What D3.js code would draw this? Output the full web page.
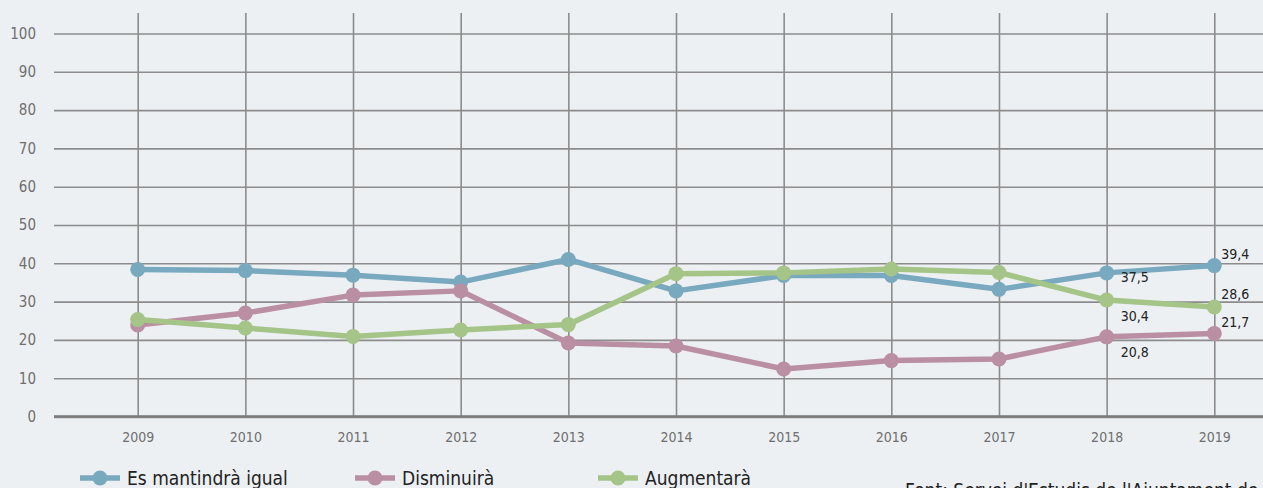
<!DOCTYPE html>
<html><head><meta charset="utf-8">
<script src="https://cdn.jsdelivr.net/npm/d3@7"></script>
<style>
html,body{margin:0;padding:0;background:#ECF0F3;overflow:hidden}
svg{display:block}
text{font-family:"DejaVu Sans Condensed","DejaVu Sans",sans-serif;font-stretch:condensed}
</style></head>
<body><svg id="c" width="1263" height="488"></svg>
<script>
const years = ["2009","2010","2011","2012","2013","2014","2015","2016","2017","2018","2019"];
const igual = [38.4,38.1,36.9,35.1,41.0,32.8,36.8,36.8,33.2,37.5,39.4];
const disminuira = [23.9,27.0,31.7,32.8,19.2,18.4,12.4,14.6,15.0,20.8,21.7];
const augmentara = [25.3,23.1,20.9,22.6,24.0,37.3,37.5,38.5,37.6,30.4,28.6];
const seriesNames = ["Es mantindrà igual","Disminuirà","Augmentarà"];
const colors = ["#79A9BE","#BA8FA3","#A5C488"];
const yTicks = [0,10,20,30,40,50,60,70,80,90,100];
const source = "Font: Servei d'Estudis de l'Ajuntament de Barcelona";

const svg = d3.select("#c");
const W = 1263;
const x = d3.scalePoint().domain(years).range([137.7, 1214.3]);
const y = d3.scaleLinear().domain([0,100]).range([416.5, 33.5]);

// horizontal grid
const gy = svg.append("g").attr("transform","translate(54,0)")
  .call(d3.axisLeft(y).tickValues(yTicks).tickSize(-(W-54)).tickPadding(18).tickFormat(d3.format("d")));
gy.select(".domain").remove();
gy.selectAll(".tick line").attr("stroke","#8c8c8c").attr("stroke-width",d=>d===0?2.5:1.6);
gy.selectAll(".tick text").attr("fill","#6f6f6f").attr("font-size",15).attr("text-anchor","end");

// vertical grid
const gx = svg.append("g").attr("transform","translate(0,416.5)")
  .call(d3.axisBottom(x).tickSize(-(416.5-13)).tickPadding(16));
gx.select(".domain").remove();
gx.selectAll(".tick line").attr("stroke","#8c8c8c").attr("stroke-width",1.6);
gx.selectAll(".tick text").attr("fill","#6f6f6f").attr("font-size",14);
svg.append("line").attr("x1",54).attr("x2",W).attr("y1",y(0)).attr("y2",y(0))
  .attr("stroke","#7c7c7c").attr("stroke-width",2.5);

const data = [igual, disminuira, augmentara];
const line = d3.line().x((d,i)=>x(years[i])).y(d=>y(d));
[0,1,2].forEach(k=>{
  const g = svg.append("g");
  g.append("path").datum(data[k]).attr("d",line).attr("fill","none")
    .attr("stroke",colors[k]).attr("stroke-width",5.5).attr("stroke-linejoin","round");
  g.selectAll("circle").data(data[k]).join("circle")
    .attr("cx",(d,i)=>x(years[i])).attr("cy",d=>y(d)).attr("r",7.5).attr("fill",colors[k]);
});

const fmt = v => d3.format(".1f")(v).replace(".",",");
const lab = [
  {k:0,i:9,dx:14,dy:9},{k:2,i:9,dx:14,dy:21},{k:1,i:9,dx:14,dy:20},
  {k:0,i:10,dx:7,dy:-7},{k:2,i:10,dx:7,dy:-8},{k:1,i:10,dx:7,dy:-6}
];
svg.selectAll("text.vl").data(lab).join("text").attr("class","vl")
  .attr("x",d=>x(years[d.i])+d.dx).attr("y",d=>y(data[d.k][d.i])+d.dy)
  .attr("font-size",14).attr("fill","#222").text(d=>fmt(data[d.k][d.i]));

const lx = [80,355,598];
seriesNames.forEach((n,k)=>{
  const g = svg.append("g").attr("transform",`translate(${lx[k]},478)`);
  g.append("line").attr("x1",0).attr("x2",40).attr("stroke",colors[k]).attr("stroke-width",5.5);
  g.append("circle").attr("cx",20).attr("r",7.5).attr("fill",colors[k]);
  g.append("text").attr("x",47).attr("y",7).attr("font-size",19).attr("fill","#222").text(n);
});
svg.append("text").attr("x",905).attr("y",497).attr("font-size",19).attr("fill","#222").text(source);
</script></body></html>
